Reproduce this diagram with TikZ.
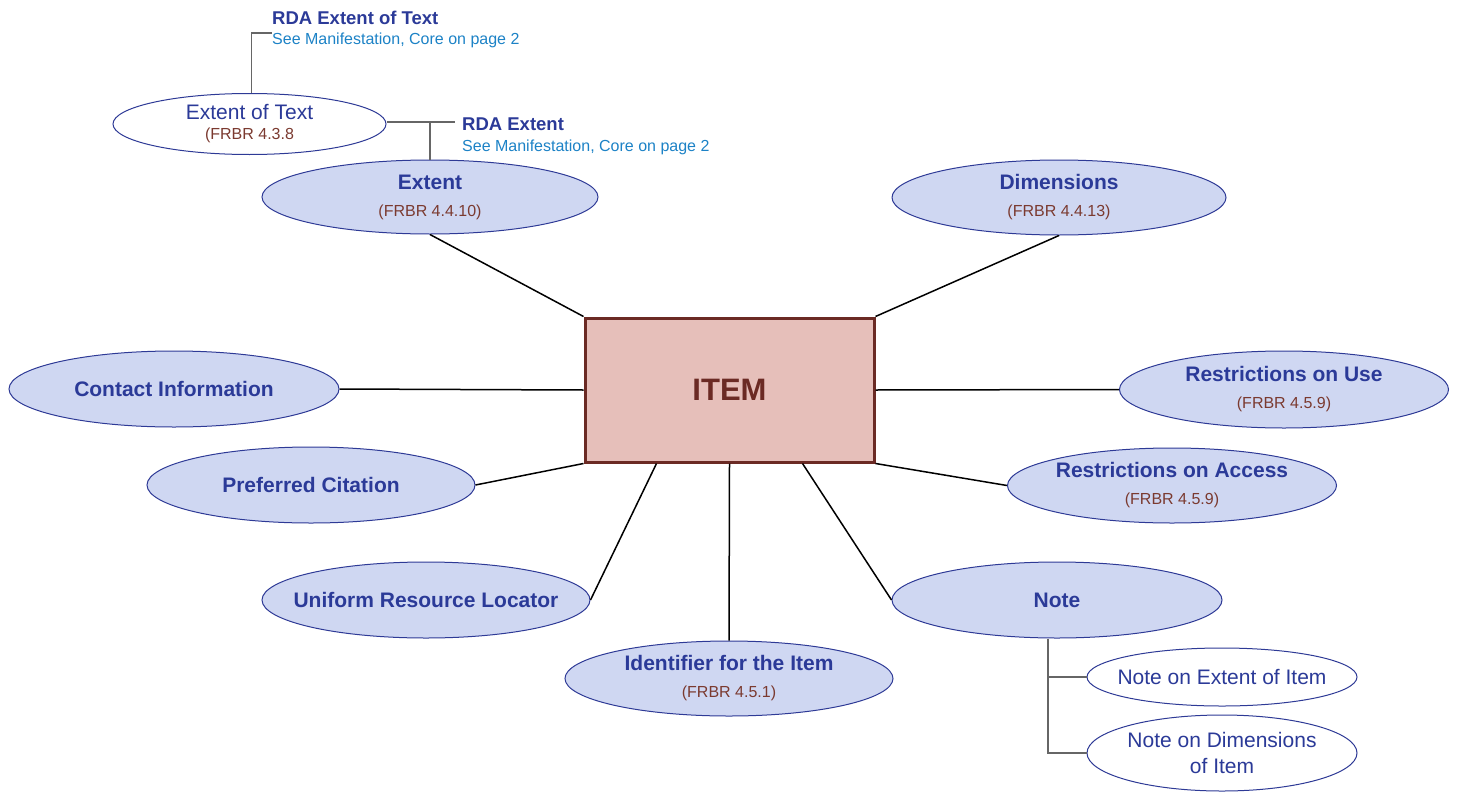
\documentclass[tikz,border=0pt]{standalone}
\usepackage{fontspec}
\setmainfont{Liberation Sans}
\usepackage{tikz}
\usetikzlibrary{shapes, calc}
\usepackage{xcolor}
\definecolor{attrfill}{HTML}{CFD7F2}
\definecolor{attrline}{HTML}{2E3A96}
\definecolor{attrtext}{HTML}{2B3A98}
\definecolor{frbrcolor}{HTML}{7B3A30}
\definecolor{itemfill}{HTML}{E6BFBA}
\definecolor{itemline}{HTML}{6B2A24}
\definecolor{seecolor}{HTML}{1C82C6}
\definecolor{sublinecolor}{HTML}{666666}

\newcommand{\frbr}[1]{{\fontsize{16}{18}\mdseries\selectfont\color{frbrcolor}#1}}
\newcommand{\rdahead}[1]{{\fontsize{18.5}{21}\bfseries\selectfont\color{attrtext}#1}}
\newcommand{\rdasee}[1]{{\fontsize{16}{21}\selectfont\color{seecolor}#1}}

\begin{document}
\begin{tikzpicture}[x=1pt, y=-1pt,
    item/.style={draw=itemline, line width=3pt, fill=itemfill, text=itemline,
        minimum width=289pt, minimum height=144pt, inner sep=0pt,
        font=\fontsize{31}{34}\bfseries\selectfont},
    attr/.style={ellipse, draw=attrline, line width=1pt, fill=attrfill, text=attrtext,
        minimum width=330pt, minimum height=76pt, inner xsep=-70pt, inner ysep=-25pt,
        align=center, font=\fontsize{21}{27}\bfseries\selectfont},
    twoline/.style={execute at begin node=\rule{0pt}{21pt}},
    subattr/.style={ellipse, draw=attrline, line width=1pt, fill=white, text=attrtext,
        minimum width=270pt, minimum height=60pt, inner xsep=-70pt, inner ysep=-25pt,
        align=center, font=\fontsize{21}{26}\selectfont},
    rdalabel/.style={anchor=west, inner sep=0pt, align=left,
        font=\fontsize{16}{20.5}\selectfont},
    mainline/.style={line width=1.5pt, black},
    subline/.style={line width=1.5pt, sublinecolor}]

    \useasboundingbox (0,0) rectangle (1458,792);

    % Centre
    \node[item] (item) at (729.5,390) {ITEM};

    % Attributes
    \node[attr, twoline, minimum width=336pt, minimum height=74pt] (extent) at (430,197) {Extent\\\frbr{(FRBR 4.4.10)}};
    \node[attr, twoline, minimum width=334pt, minimum height=75pt] (dimensions) at (1059,197.5) {Dimensions\\\frbr{(FRBR 4.4.13)}};
    \node[attr] (contact) at (174,389) {Contact Information};
    \node[attr, minimum width=328pt] (citation) at (311,485) {Preferred Citation};
    \node[attr, minimum width=328pt] (url) at (426,600) {Uniform Resource Locator};
    \node[attr, twoline, minimum width=328pt, minimum height=75pt] (identifier) at (729,678.5) {Identifier for the Item\\\frbr{(FRBR 4.5.1)}};
    \node[attr] (note) at (1057,600) {Note};
    \node[attr, twoline, minimum width=329pt, minimum height=75pt] (access) at (1172,485.5) {Restrictions on Access\\\frbr{(FRBR 4.5.9)}};
    \node[attr, twoline, minimum width=329pt, minimum height=77pt] (use) at (1284,389.5) {Restrictions on Use\\\frbr{(FRBR 4.5.9)}};

    % Sub attributes
    \node[subattr, minimum width=273pt, minimum height=61pt, font=\fontsize{21}{20}\selectfont] (extoftext) at (249.5,124) {Extent of Text\\\frbr{(FRBR 4.3.8}};
    \node[subattr, minimum height=58pt] (noteext) at (1222,677) {Note on Extent of Item};
    \node[subattr, minimum height=76pt] (notedim) at (1222,753) {Note on Dimensions\\of Item};

    % RDA labels
    \node[rdalabel] (rdatext) at (272,29.5) {\rdahead{RDA Extent of Text}\\\rdasee{See Manifestation, Core on page 2}};
    \node[rdalabel] (rdaext) at (462,136.5) {\rdahead{RDA Extent}\\\rdasee{See Manifestation, Core on page 2}};

    % Main connectors
    \draw[mainline] (item.north west) -- (extent.south);
    \draw[mainline] (item.north east) -- (dimensions.south);
    \draw[mainline] (item.west) -- (contact.east);
    \draw[mainline] (item.east) -- (use.west);
    \draw[mainline] (item.south west) -- (citation.east);
    \draw[mainline] (item.south east) -- (access.west);
    \draw[mainline] ($(item.south west)!0.25!(item.south east)$) -- (url.east);
    \draw[mainline] (item.south) -- (identifier.north);
    \draw[mainline] ($(item.south west)!0.75!(item.south east)$) -- (note.west);

    % Sub connectors
    \coordinate (extjoin) at (430,122);
    \coordinate (rdaextend) at (455,122);
    \draw[subline] ([xshift=2pt]extoftext.north) |- ([yshift=-3.5pt]rdatext.west);
    \draw[subline] (extoftext.east |- extjoin) -- (extjoin);
    \draw[subline] (extent.north) -- (extjoin) -- (rdaextend);
    \draw[subline] ([xshift=-9pt]note.south) |- (notedim.west);
    \draw[subline] ([xshift=-9pt]note.south |- noteext.west) -- (noteext.west);
\end{tikzpicture}
\end{document}
